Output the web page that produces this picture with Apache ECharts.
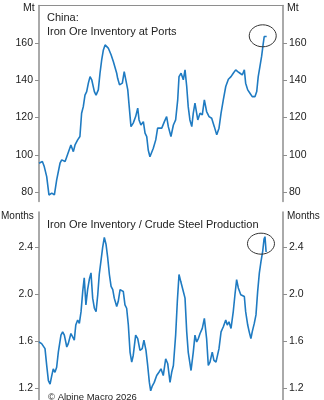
<!DOCTYPE html>
<html>
<head>
<meta charset="utf-8">
<script src="https://cdn.jsdelivr.net/npm/echarts@6/dist/echarts.min.js"></script>
<style>
html,body{margin:0;padding:0;background:#fff;}
#c{width:324px;height:400px;}
</style>
</head>
<body>
<div id="c"></div>
<script>
// ---- data (time in decimal years) ----
const portYears = [2014.00,2014.18,2014.28,2014.41,2014.53,2014.68,2014.82,2014.94,2015.12,2015.21,2015.39,2015.48,2015.56,2015.70,2015.83,2015.92,2016.06,2016.18,2016.27,2016.36,2016.45,2016.54,2016.63,2016.72,2016.81,2016.95,2017.04,2017.16,2017.25,2017.34,2017.43,2017.52,2017.61,2017.69,2017.84,2017.96,2018.14,2018.19,2018.29,2018.44,2018.54,2018.64,2018.73,2018.79,2018.90,2019.02,2019.15,2019.26,2019.33,2019.43,2019.56,2019.65,2019.74,2019.82,2019.91,2020.00,2020.09,2020.22,2020.32,2020.41,2020.54,2020.68,2020.80,2020.89,2021.03,2021.16,2021.28,2021.39,2021.46,2021.57,2021.69,2021.78,2021.87,2021.95,2022.04,2022.14,2022.22,2022.31,2022.46,2022.58,2022.70,2022.81,2022.93,2023.06,2023.20,2023.34,2023.47,2023.59,2023.70,2023.82,2023.95,2024.09,2024.23,2024.35,2024.48,2024.59,2024.71,2024.83,2024.94,2025.01,2025.12,2025.24,2025.36,2025.51,2025.60,2025.68,2025.77,2025.86,2025.95,2026.00,2026.08,2026.13];
const portInventory = [95.5,96.4,93.7,88.3,78.5,79.5,78.5,86.5,95.5,97.3,96.4,99,100,105.3,101.7,105.3,108,109.8,122.3,125.8,132,133.9,138.4,141.9,140.2,133.9,132,134.8,143.7,150.9,156.2,158.9,158,157.2,153.6,150,143.7,141,137.5,138.4,144.6,144.6,134.8,127.7,115.1,117,120.5,125,118.7,116,117.8,111.6,109.8,102.6,99,100,103.5,108,114.3,113.4,114.3,117.8,120.5,115.1,109.8,116,118.7,129.4,141.9,143.7,140.2,145.5,136.6,125.8,118.7,115.1,122.3,127.7,118.7,122.3,121.4,129.4,123.2,120.5,119.6,115.1,110.7,114.3,122.3,129.4,136.6,140.5,141.9,143.7,145.5,144.6,143.7,142.8,145.5,138.4,134.8,133,131.2,131.2,133.9,141.9,147.3,152.7,159.8,163.4,164.3,163.4];

const ratioYears = [2014.00,2014.14,2014.23,2014.32,2014.41,2014.50,2014.59,2014.68,2014.76,2014.85,2014.94,2015.03,2015.17,2015.26,2015.35,2015.48,2015.56,2015.70,2015.80,2015.88,2015.96,2016.06,2016.15,2016.24,2016.33,2016.41,2016.50,2016.59,2016.68,2016.77,2016.86,2016.95,2017.04,2017.13,2017.21,2017.30,2017.39,2017.48,2017.57,2017.66,2017.75,2017.84,2017.93,2018.01,2018.14,2018.22,2018.32,2018.41,2018.49,2018.58,2018.67,2018.76,2018.85,2018.94,2019.02,2019.15,2019.26,2019.38,2019.50,2019.59,2019.70,2019.79,2019.88,2019.95,2020.04,2020.14,2020.27,2020.39,2020.50,2020.62,2020.75,2020.86,2020.98,2021.07,2021.16,2021.28,2021.37,2021.46,2021.55,2021.60,2021.69,2021.78,2021.87,2021.95,2022.10,2022.22,2022.31,2022.40,2022.49,2022.58,2022.70,2022.81,2022.93,2023.02,2023.11,2023.23,2023.32,2023.43,2023.52,2023.59,2023.70,2023.82,2023.95,2024.03,2024.12,2024.23,2024.35,2024.44,2024.53,2024.62,2024.75,2024.83,2024.94,2025.01,2025.12,2025.20,2025.29,2025.36,2025.47,2025.56,2025.65,2025.74,2025.83,2025.92,2025.99,2026.04,2026.10];
const ratioMonths = [1.594,1.58,1.594,1.537,1.394,1.265,1.236,1.308,1.365,1.336,1.379,1.508,1.652,1.68,1.652,1.551,1.58,1.666,1.652,1.609,1.738,1.781,1.752,1.852,2.024,2.139,1.91,2.039,2.125,2.182,1.967,1.881,1.852,1.996,2.168,2.282,2.397,2.483,2.426,2.311,2.168,2.067,2.039,1.967,1.895,1.938,2.039,2.024,2.024,1.91,1.881,1.738,1.508,1.422,1.479,1.652,1.623,1.523,1.537,1.609,1.523,1.394,1.25,1.178,1.221,1.25,1.308,1.336,1.365,1.308,1.451,1.408,1.25,1.336,1.394,1.652,1.938,2.168,2.11,2.096,2.024,1.967,1.68,1.508,1.351,1.508,1.652,1.594,1.623,1.666,1.709,1.795,1.623,1.394,1.422,1.508,1.437,1.422,1.408,1.537,1.68,1.723,1.781,1.738,1.766,1.709,1.852,1.996,2.125,2.053,1.996,2.01,1.981,1.852,1.738,1.68,1.623,1.68,1.752,1.824,2.024,2.182,2.282,2.368,2.469,2.49,2.36];

const portTicks = [80,100,120,140,160];
const ratioTicks = [1.2,1.6,2.0,2.4];

const FONT = '"Liberation Sans", Arial, sans-serif';
const AXIS_COLOR = '#8e8e8e';
const TXT = '#222';
const LINE = '#1f7bc2';

const portData = portYears.map((y,i)=>[y,portInventory[i]]);
const ratioData = ratioYears.map((y,i)=>[y,ratioMonths[i]]);

function yAx(gridIndex, pos, min, max, ticks, fmt){
  return {
    type:'value', gridIndex, position:pos, min, max,
    axisLine:{show:true, lineStyle:{color:AXIS_COLOR, width:1.5}},
    axisTick:{show:true, inside:false, length:4, customValues:ticks, lineStyle:{color:AXIS_COLOR, width:1}},
    axisLabel:{show:true, customValues:ticks, margin:6, color:TXT, fontSize:10.5, fontFamily:FONT, formatter:fmt},
    splitLine:{show:false}
  };
}
function txt(text, left, top, size, extra){
  return Object.assign({text, left, top, padding:0, itemGap:0,
    textStyle:Object.assign({fontSize:size, fontWeight:'normal', color:TXT, fontFamily:FONT}, extra||{})});
}

const chart = echarts.init(document.getElementById('c'), null, {renderer:'canvas'});
const option = {
  animation:false,
  backgroundColor:'#fff',
  grid:[
    {left:39, right:41, top:5.5, height:196},
    {left:39, right:41, top:212, height:188}
  ],
  xAxis:[
    {type:'value', gridIndex:0, min:2014, max:2027, position:'top',
     axisLine:{show:true, lineStyle:{color:AXIS_COLOR, width:1.2}},
     axisTick:{show:false}, axisLabel:{show:false}, splitLine:{show:false}},
    {type:'value', gridIndex:1, min:2014, max:2027,
     axisLine:{show:false}, axisTick:{show:false}, axisLabel:{show:false}, splitLine:{show:false}}
  ],
  yAxis:[
    yAx(0,'left',75,180,portTicks,v=>String(v)),
    yAx(0,'right',75,180,portTicks,v=>String(v)),
    yAx(1,'left',1.1,2.7,ratioTicks,v=>Number(v).toFixed(1)),
    yAx(1,'right',1.1,2.7,ratioTicks,v=>Number(v).toFixed(1))
  ],
  title:[
    txt('Mt', 23, 3, 10.5),
    txt('Mt', 287, 3, 10.5),
    txt('China:\nIron Ore Inventory at Ports', 47, 11, 11, {lineHeight:14}),
    txt('Months', 1, 211, 10),
    txt('Months', 287, 211, 10),
    txt('Iron Ore Inventory / Crude Steel Production', 47, 219, 11),
    txt('© Alpine Macro 2026', 48, 392, 9.5)
  ],
  series:[
    {type:'line', xAxisIndex:0, yAxisIndex:0, data:portData, showSymbol:false, symbol:'none',
     lineStyle:{color:LINE, width:1.6}, z:3},
    {type:'line', xAxisIndex:1, yAxisIndex:2, data:ratioData, showSymbol:false, symbol:'none',
     lineStyle:{color:LINE, width:1.6}, z:3}
  ]
};
chart.setOption(option);

// circle annotations around latest peaks
function lastPeakIdx(arr){let m=0;arr.forEach((v,i)=>{if(v>=arr[m])m=i;});return m;}
const p1 = lastPeakIdx(portInventory), p2 = lastPeakIdx(ratioMonths);
const c1 = chart.convertToPixel({seriesIndex:0}, portData[p1]);
const c2 = chart.convertToPixel({seriesIndex:1}, ratioData[p2]);
chart.setOption({
  graphic:[
    {type:'ellipse', shape:{cx:c1[0]-3, cy:c1[1]+1, rx:13.5, ry:11}, style:{fill:'none', stroke:'#333', lineWidth:1}, z:10},
    {type:'ellipse', shape:{cx:c2[0]-4, cy:c2[1]+7, rx:13.5, ry:10.5}, style:{fill:'none', stroke:'#333', lineWidth:1}, z:10}
  ]
});
</script>
</body>
</html>
